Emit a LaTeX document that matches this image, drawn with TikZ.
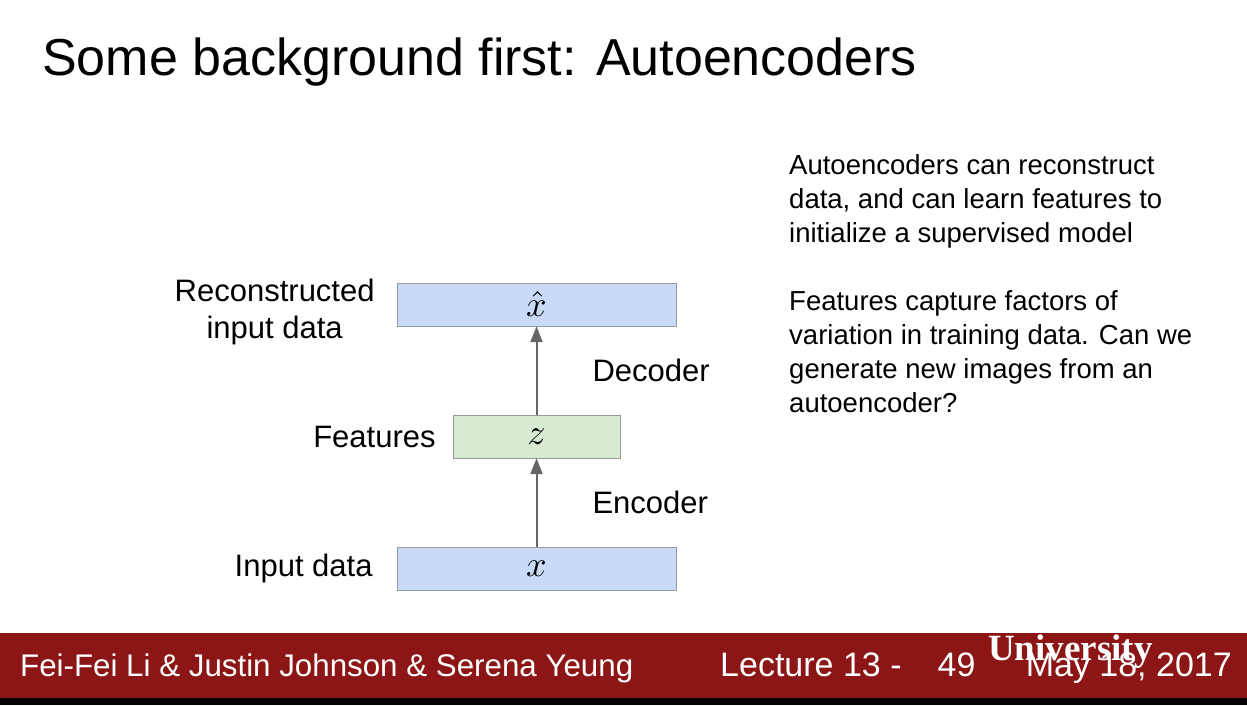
\documentclass[tikz,border=0pt]{standalone}
\usepackage{graphicx}
\usepackage{fontspec}
\setmainfont{Liberation Sans}
\newfontfamily\UniFont{Liberation Serif}
\usetikzlibrary{positioning,arrows.meta}
\definecolor{boxblue}{HTML}{C9DAF8}
\definecolor{boxgreen}{HTML}{D9EAD3}
\definecolor{footred}{HTML}{8C1515}
\newcommand{\MathT}[1]{\scalebox{3.6}{\fontsize{10}{12}\selectfont$#1$}}
\begin{document}
\begin{tikzpicture}[x=1pt,y=1pt]
          \tikzstyle{boxs} = [draw=black!40, fill=boxblue, minimum width=279pt, minimum height=43pt, inner sep=0pt]
          \tikzstyle{boxsG} = [draw=black!40, fill=boxgreen, minimum width=167pt, minimum height=43pt, inner sep=0pt]
          \tikzstyle{lbl} = [inner sep=0pt, text=black, font=\fontsize{31}{37}\selectfont]
          \tikzstyle{foot} = [inner sep=0pt, text=white, font=\fontsize{34}{38}\selectfont]
          \tikzstyle{lineR} = [draw,<-,line width=2pt,black!60,>={Triangle[width=12pt,length=16pt]}]

          \useasboundingbox (0,0) rectangle (1247,705);
          \fill[white] (0,0) rectangle (1247,705);
          \fill[footred] (0,7) rectangle (1247,72);
          \fill[black] (0,0) rectangle (1247,7);

          \node(Title)[inner sep=0pt, anchor=base west, font=\fontsize{52}{60}\selectfont] at (42,629) {Some background first: Autoencoders};

          \tikzset{node distance = 132pt}
          \node(Input)[boxs] at (536.5,136.5) {\MathT{x}};
          \node(Features)[boxsG, above of = Input] {\MathT{z}} edge[lineR] node[lbl, right=55pt] {Encoder} (Input.north);
          \node(Recon)[boxs, above of = Features] {\MathT{\hat{x}}} edge[lineR] node[lbl, right=55pt] {Decoder} (Features.north);

          \node(InputLbl)[lbl, left=24pt of Input] {Input data};
          \node(FeaturesLbl)[lbl, left=17pt of Features] {Features};
          \node(ReconLbl)[lbl, left=22pt of Recon, align=center, yshift=-7pt] {Reconstructed\\input data};

          \node(Notes)[lbl, anchor=north west, align=left, font=\fontsize{27.5}{34}\selectfont] at (789,551)
            {Autoencoders can reconstruct\\data, and can learn features to\\initialize a supervised model\\[34pt]
             Features capture factors of\\variation in training data. Can we\\generate new images from an\\autoencoder?};

          \node(Authors)[foot, anchor=base west, font=\fontsize{31.3}{36}\selectfont] at (20,29) {Fei-Fei Li \& Justin Johnson \& Serena Yeung};
          \node(Lecture)[foot, anchor=base west] at (720,29) {Lecture 13 -\hspace{36pt}49};
          \node(Date)[foot, anchor=base east] at (1232,29) {May 18, 2017};
          \node(Uni)[inner sep=0pt, anchor=base west, text=white, font=\UniFont\bfseries\fontsize{37}{40}\selectfont] at (988,45) {University};
        \end{tikzpicture}
\end{document}
